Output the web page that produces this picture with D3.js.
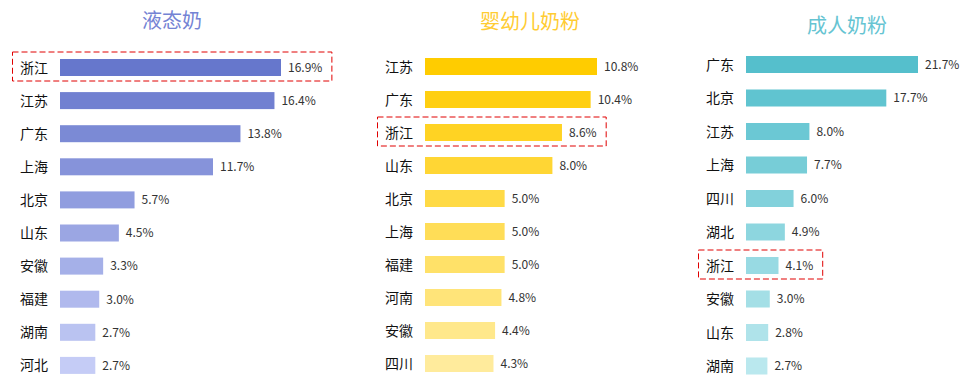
<!DOCTYPE html>
<html><head><meta charset="utf-8">
<script src="https://cdn.jsdelivr.net/npm/d3@7/dist/d3.min.js"></script>
<style>
html,body{margin:0;padding:0;background:#fff;}
svg{display:block;font-family:"Noto Sans CJK SC","Noto Sans",sans-serif;}
</style></head>
<body>
<svg id="c" width="967" height="383"></svg>
<script>
const titles = ["液态奶", "婴幼儿奶粉", "成人奶粉"];
const liquidCats = ["浙江","江苏","广东","上海","北京","山东","安徽","福建","湖南","河北"];
const liquidVals = [16.9,16.4,13.8,11.7,5.7,4.5,3.3,3.0,2.7,2.7];
const infantCats = ["江苏","广东","浙江","山东","北京","上海","福建","河南","安徽","四川"];
const infantVals = [10.8,10.4,8.6,8.0,5.0,5.0,5.0,4.8,4.4,4.3];
const adultCats = ["广东","北京","江苏","上海","四川","湖北","浙江","安徽","山东","湖南"];
const adultVals = [21.7,17.7,8.0,7.7,6.0,4.9,4.1,3.0,2.8,2.7];
const highlight = "浙江";

const panels = [
  {title: titles[0], cats: liquidCats, vals: liquidVals, x0: 60, maxW: 221, y0: 67.5, step: 33.1,
   c1: "#6677cc", c2: "#c5ccf6", tc: "#7483d4", tx: 172, ty: 28},
  {title: titles[1], cats: infantCats, vals: infantVals, x0: 425, maxW: 172, y0: 66.5, step: 33.0,
   c1: "#ffcc00", c2: "#ffeb9c", tc: "#ffcc33", tx: 530, ty: 29},
  {title: titles[2], cats: adultCats, vals: adultVals, x0: 746, maxW: 172, y0: 64.5, step: 33.5,
   c1: "#55bfcc", c2: "#bae8ee", tc: "#66c4d2", tx: 847, ty: 33}
];

const svg = d3.select("#c");
const barH = 17;

panels.forEach(p => {
  const g = svg.append("g");
  const n = p.cats.length;
  const pi = 1 - barH / p.step;
  const top = p.y0 - p.step / 2;
  const y = d3.scaleBand().domain(p.cats).range([top, top + n * p.step])
    .paddingInner(pi).paddingOuter(pi / 2);
  const x = d3.scaleLinear().domain([0, d3.max(p.vals)]).range([p.x0, p.x0 + p.maxW]);
  const col = d3.scaleLinear().domain([0, n - 1]).range([p.c1, p.c2]).interpolate(d3.interpolateRgb);

  g.append("text").attr("x", p.tx).attr("y", p.ty).attr("text-anchor", "middle")
    .attr("font-size", 20).attr("fill", p.tc).text(p.title);

  const data = p.cats.map((c, i) => ({c, v: p.vals[i], i}));

  g.selectAll("rect.bar").data(data).join("rect").attr("class", "bar")
    .attr("x", x(0)).attr("y", d => y(d.c)).attr("height", y.bandwidth())
    .attr("width", d => x(d.v) - x(0)).attr("fill", d => col(d.i));

  g.selectAll("text.cat").data(data).join("text").attr("class", "cat")
    .attr("x", x(0) - 40).attr("y", d => y(d.c) + y.bandwidth() / 2)
    .attr("dy", "0.36em").attr("font-size", 14).attr("fill", "#111").text(d => d.c);

  const vt = g.selectAll("text.val").data(data).join("text").attr("class", "val")
    .attr("x", d => x(d.v) + 7).attr("y", d => y(d.c) + y.bandwidth() / 2)
    .attr("dy", "0.36em").attr("font-size", 12).attr("fill", "#333")
    .text(d => d.v.toFixed(1) + "%");

  data.filter(d => d.c === highlight).forEach(d => {
    const node = vt.filter(e => e.c === d.c).node();
    const right = x(d.v) + 7 + node.getComputedTextLength() + 9;
    const left = x(0) - 48;
    const cy = y(d.c) + y.bandwidth() / 2 - 1;
    g.append("rect").attr("x", left + 0.5).attr("y", cy - 14.5)
      .attr("width", right - left).attr("height", 29)
      .attr("fill", "none").attr("stroke", "#e00000").attr("stroke-width", 1)
      .attr("stroke-dasharray", "6,3");
  });
});
</script>
</body></html>
